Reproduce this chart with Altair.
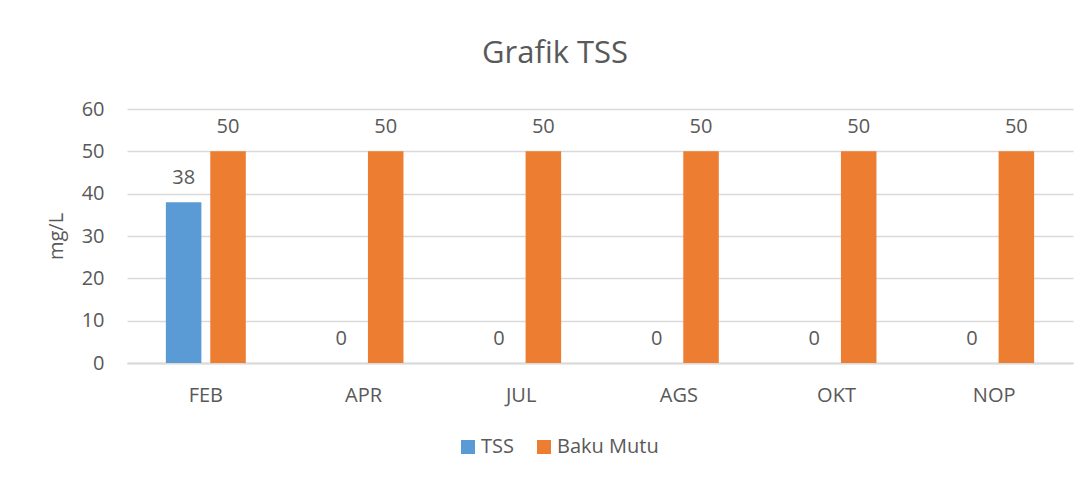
import altair as alt
import pandas as pd

months = ["FEB", "APR", "JUL", "AGS", "OKT", "NOP"]
tss = [38, 0, 0, 0, 0, 0]
baku_mutu = [50, 50, 50, 50, 50, 50]
series = ["TSS", "Baku Mutu"]
colors = ["#5B9BD5", "#ED7D31"]
y_ticks = [0, 10, 20, 30, 40, 50, 60]

rows = []
for i, m in enumerate(months):
    rows.append({"month": m, "series": "TSS", "value": tss[i]})
    rows.append({"month": m, "series": "Baku Mutu", "value": baku_mutu[i]})
df = pd.DataFrame(rows)

gray = "#595959"
grid = "#D9D9D9"

x_enc = alt.X("month:N", sort=months,
              scale=alt.Scale(paddingInner=0.493, paddingOuter=0.2465),
              axis=alt.Axis(title=None, labelAngle=0, labelFontSize=20, labelColor=gray,
                            labelPadding=22, ticks=False, tickSize=0, domainColor=grid,
                            domainWidth=2, grid=False))
xoff = alt.XOffset("series:N", sort=series,
                   scale=alt.Scale(paddingInner=0.2, paddingOuter=0))
y_enc = alt.Y("value:Q",
              scale=alt.Scale(domain=[0, 60], nice=False),
              axis=alt.Axis(values=y_ticks, title="mg/L", titleFontSize=20,
                            titleFontWeight="normal", titleColor=gray,
                            titleAngle=-90, titleBaseline="middle", titleAlign="center",
                            titleX=-71, titleY=127,
                            labelFontSize=20, labelColor=gray, labelPadding=23,
                            ticks=False, tickSize=0, domain=False,
                            gridColor=grid, gridWidth=1.5))
color_enc = alt.Color("series:N", sort=series,
                      scale=alt.Scale(domain=series, range=colors),
                      legend=alt.Legend(title=None, orient="none", direction="horizontal",
                                        legendX=331, legendY=328, symbolType="square",
                                        symbolSize=196, symbolStrokeWidth=0,
                                        labelFontSize=20, labelColor=gray, labelOffset=3,
                                        columnPadding=20))

base = alt.Chart(df).encode(x=x_enc, xOffset=xoff, y=y_enc)

bars = base.mark_bar().encode(color=color_enc)
labels = base.mark_text(baseline="alphabetic", dy=-18, fontSize=20, color=gray).encode(
    text=alt.Text("value:Q"))

chart = alt.layer(bars, labels).properties(
    width=946, height=254,
    title=alt.TitleParams("Grafik TSS", fontSize=31, fontWeight="normal", color=gray,
                          anchor="middle", frame="group", dx=-45, offset=29),
    autosize=alt.AutoSizeParams(type="none"),
    padding={"left": 119, "top": 101, "right": 10, "bottom": 106},
).configure(font="Open Sans").configure_view(stroke=None)

chart.save("out.html", embed_options={"renderer": "svg", "actions": False})
